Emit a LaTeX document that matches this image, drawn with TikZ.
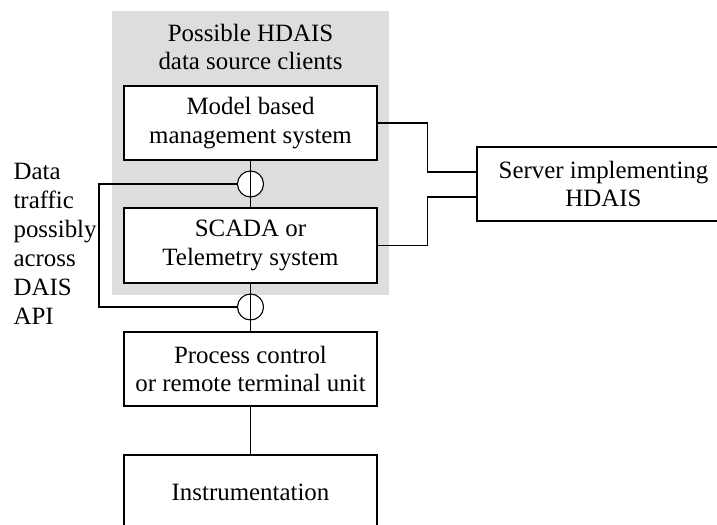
\documentclass[tikz,border=0pt]{standalone}
\usepackage{fontspec}
\setmainfont{Liberation Serif}
\usepackage{tikz}
\usetikzlibrary{positioning}
\definecolor{clientgray}{RGB}{221,221,221}

\begin{document}
\begin{tikzpicture}[x=1bp, y=-1bp, line width=1.1bp,
    font=\fontsize{25}{29}\selectfont,
    sysbox/.style={draw, fill=white, align=center, minimum width=253bp, minimum height=75bp, inner sep=0pt},
    tap/.style={draw, circle, fill=white, minimum size=26bp, inner sep=0pt}]
    \useasboundingbox (0,0) rectangle (717,525);

    % Client area
    \fill[clientgray] (112,11) rectangle (389,295);
    \node (title) at (250.5,47) [align=center] {Possible HDAIS\\data source clients};

    % Systems
    \node (model) at (250.5,123) [sysbox, minimum height=74bp] {Model based\\management system};
    \node (scada) at (250.5,245.5) [sysbox] {SCADA or\\Telemetry system};
    \node (process) at (250.5,369) [sysbox, minimum height=74bp] {Process control\\or remote terminal unit};
    \node (instr) at (250.5,492.5) [sysbox] {Instrumentation};
    \node (server) at (603.5,184) [sysbox, minimum height=74bp] {Server implementing\\HDAIS};

    % Vertical links
    \draw (model) -- (scada);
    \draw (scada) -- (process);
    \draw (process) -- (instr);

    % API taps
    \node (tapA) at (250.5,184) [tap] {};
    \node (tapB) at (250.5,307) [tap] {};
    \draw (model.south) -- (scada.north);
    \draw (scada.south) -- (process.north);
    \coordinate (bus) at (99,184);
    \draw (tapA.west) -- (bus) |- (tapB.west);
    \node (traffic) at (13,163) [anchor=north west, align=left, inner sep=0pt]
        {Data\\traffic\\possibly\\across\\DAIS\\API};

    % Links to server
    \draw (model.east) -- ++(50,0) |- ([yshift=12bp]server.west);
    \draw (scada.east) -- ++(50,0) |- ([yshift=-13bp]server.west);
\end{tikzpicture}
\end{document}
